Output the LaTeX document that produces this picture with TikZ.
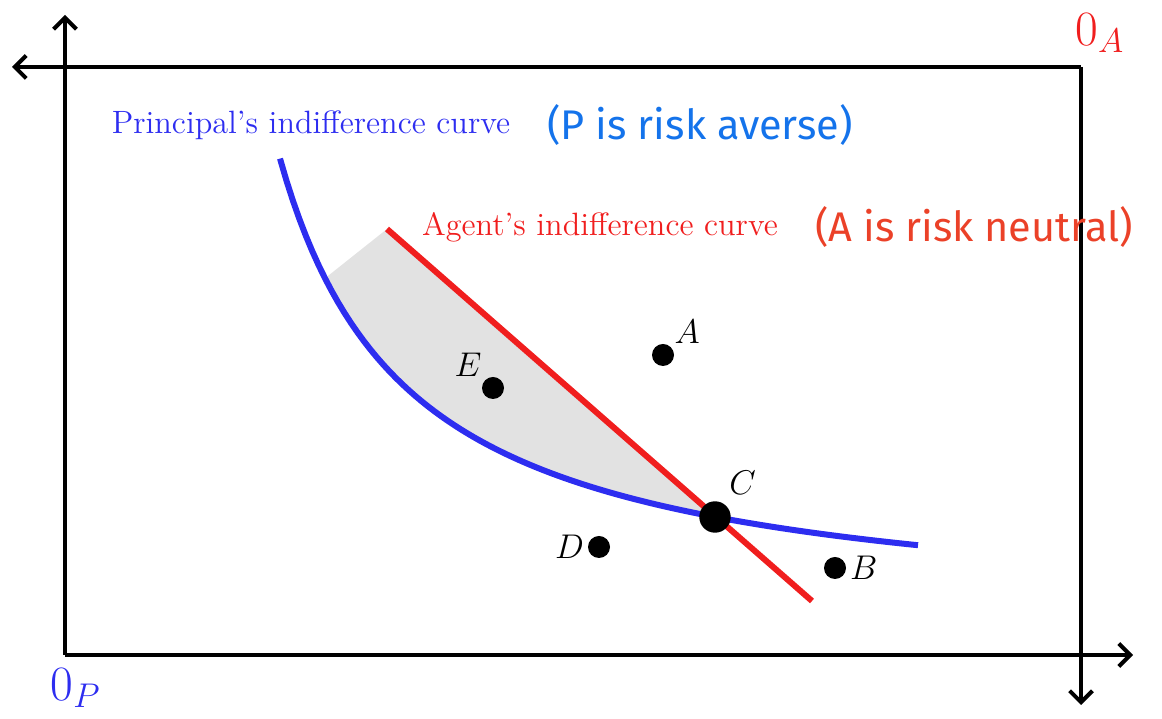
\documentclass[tikz,border=0pt]{standalone}
\usepackage{fontspec}
\newfontfamily\handfont{Fira Sans}
\usetikzlibrary{arrows.meta,positioning,calc}
\definecolor{prin}{RGB}{45,45,240}
\definecolor{agent}{RGB}{240,30,30}
\definecolor{penblue}{RGB}{20,115,235}
\definecolor{penred}{RGB}{235,65,40}
\definecolor{greyfill}{RGB}{226,226,226}
\tikzset{axis/.style={line width=1.4pt,-{Straight Barb[length=4pt,width=8pt]}},
  dot/.style={circle,fill=black,inner sep=0pt,minimum size=7.7pt},
  bigdot/.style={dot,minimum size=11pt},
  ptlabel/.style={font=\fontsize{13}{15}\selectfont,inner sep=1pt},
  curvetext/.style={font=\fontsize{11.3}{13}\selectfont},
  note/.style={font=\handfont\fontsize{14.5}{16}\selectfont}}

\begin{document}
\begin{tikzpicture}[x=0.35pt,y=-0.35pt]
\useasboundingbox (0,0) rectangle (1162,719);
% the two origins of the box
\coordinate (OP) at (65,655);
\coordinate (OA) at (1081,67);
\coordinate (Ptop) at (65,15);
\coordinate (Pright) at (1133,655);
\coordinate (Aleft) at (12,67);
\coordinate (Adown) at (1081,705);
\draw[axis] (OP) -- (Ptop);
\draw[axis] (OP) -- (Pright);
\draw[axis] (OA) -- (Aleft);
\draw[axis] (OA) -- (Adown);
\node[text=agent,font=\fontsize{18}{20}\selectfont] (oa) at (1100,33) {$0_A$};
\node[text=prin,font=\fontsize{18}{20}\selectfont] (op) at (76,688) {$0_P$};

% contract point and agent's line
\coordinate (C) at (715,517);
\coordinate (Lstart) at (387,229);
\coordinate (Lend) at (812,601);
\fill[greyfill] (Lstart) -- (C) -- plot[domain=715:325,samples=60] (\x,{624-605/((\x-150)/100)}) -- cycle;
\draw[prin,line width=2.1pt] plot[domain=280:918,samples=100] (\x,{624-605/((\x-150)/100)});
\draw[agent,line width=2.1pt] (Lstart) -- (Lend);

\foreach \n/\p/\pos in {A/{663,355}/above right,E/{493,388}/above left,D/{599,547}/left,B/{835,568}/right}
  \node[dot,label={[ptlabel]\pos:$\n$}] (\n) at (\p) {};
\node[bigdot,label={[ptlabel,label distance=2pt]60:$C$}] (Cdot) at (C) {};

% curve labels and the notes
\node[curvetext,text=prin] (ptext) at (311,125) {Principal's indifference curve};
\node[note,text=penblue,right=6pt of ptext] (pnote) {(P is risk averse)};
\node[curvetext,text=agent] (atext) at (600,227) {Agent's indifference curve};
\node[note,text=penred,right=6pt of atext] (anote) {(A is risk neutral)};
\end{tikzpicture}
\end{document}
